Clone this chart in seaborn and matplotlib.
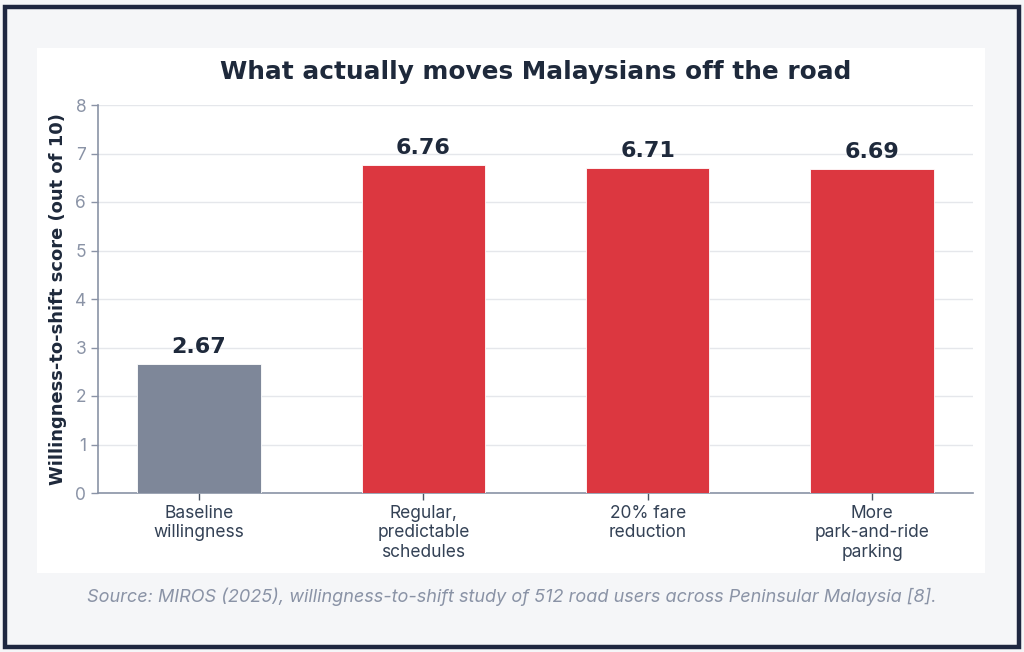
import matplotlib
matplotlib.use("Agg")
import matplotlib.pyplot as plt
import seaborn as sns
import pandas as pd
from matplotlib.patches import Rectangle

categories = ["Baseline\nwillingness", "Regular,\npredictable\nschedules",
              "20% fare\nreduction", "More\npark-and-ride\nparking"]
scores = [2.67, 6.76, 6.71, 6.69]
bar_colors = ["#7e8799", "#dc3740", "#dc3740", "#dc3740"]
y_ticks = [0, 1, 2, 3, 4, 5, 6, 7, 8]

title = "What actually moves Malaysians off the road"
ylabel = "Willingness-to-shift score (out of 10)"
source = "Source: MIROS (2025), willingness-to-shift study of 512 road users across Peninsular Malaysia [8]."

sns.set_theme(style="white")
plt.rcParams['font.family'] = ['DejaVu Sans']

df = pd.DataFrame({"category": categories, "score": scores})

fig = plt.figure(figsize=(10.24, 6.52), dpi=100, facecolor="#f5f6f8")
# white panel
fig.patches.append(Rectangle((37/1024, 1-573/652), (985-37)/1024, (573-48)/652,
                             transform=fig.transFigure, facecolor="white",
                             edgecolor="none", zorder=-5))
# outer border
fig.patches.append(Rectangle((5/1024, 5/652), 1014/1024, 640/652,
                             transform=fig.transFigure, facecolor="none",
                             edgecolor="#1e2740", linewidth=3.2, zorder=5))

ax = fig.add_axes([98/1024, 1-493/652, (973-98)/1024, (493-105)/652])
ax.set_facecolor("white")
sns.barplot(data=df, x="category", y="score", hue="category",
            palette=bar_colors, saturation=1, legend=False, width=0.55, ax=ax,
            edgecolor="white", linewidth=0.6, zorder=3)

ax.set_xlim(-0.45, 3.45)
ax.set_ylim(0, 8)
ax.set_yticks(y_ticks)
ax.yaxis.grid(True, color="#e5e7eb", linewidth=1, zorder=0)
ax.xaxis.grid(False)
ax.set_axisbelow(True)
for s in ["top", "right"]:
    ax.spines[s].set_visible(False)
for s in ["left", "bottom"]:
    ax.spines[s].set_color("#8a93a6")
    ax.spines[s].set_linewidth(1.2)

ax.tick_params(axis="y", colors="#8a93a6", labelsize=12.5, length=5, width=1, left=True)
ax.tick_params(axis="x", colors="#4b5563", labelcolor="#334155", labelsize=12.5,
               length=5, width=1, bottom=True)
for lab in ax.get_xticklabels():
    lab.set_fontfamily(["Inter", "DejaVu Sans"])
    lab.set_linespacing(1.2)
for lab in ax.get_yticklabels():
    lab.set_fontfamily(["Inter", "DejaVu Sans"])

ax.set_xlabel("")
ax.set_ylabel(ylabel, fontsize=12.9, fontweight="bold", color="#1e293b", labelpad=6)

for p, v in zip(ax.patches, scores):
    ax.annotate(f"{v:.2f}", (p.get_x() + p.get_width()/2, p.get_height()),
                xytext=(0, 5), textcoords="offset points", ha="center", va="bottom",
                fontsize=16, fontweight="bold", color="#1e293b")

fig.text(0.523, 1-72/652, title, ha="center", va="center", fontsize=17.8,
         fontweight="bold", color="#1e293b")
fig.text(0.5, 1-597/652, source, ha="center", va="center", fontsize=13,
         style="italic", color="#8a93a6", family=["Inter", "DejaVu Sans"])

fig.savefig("out.png", dpi=100, facecolor=fig.get_facecolor())
